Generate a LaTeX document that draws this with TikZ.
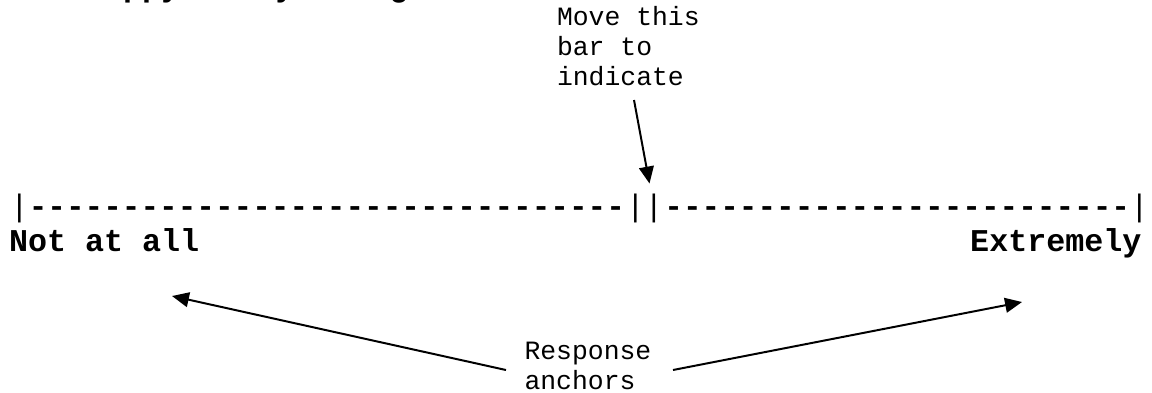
\documentclass[tikz,border=0pt]{standalone}
\usepackage{fontspec}
\setmonofont{Liberation Mono}
\usetikzlibrary{arrows.meta}
\begin{document}
\begin{tikzpicture}[x=0.3785pt,y=-0.3785pt,
  lbl/.style={inner sep=0pt, font=\ttfamily\bfseries\fontsize{12}{14}\selectfont},
  scl/.style={inner sep=0pt, font=\ttfamily\bfseries\fontsize{11.75}{14}\selectfont},
  note/.style={inner sep=0pt, align=left, font=\ttfamily\fontsize{10}{11.17}\selectfont},
  arr/.style={-{Triangle[length=6.4pt,width=5.6pt]}, line width=0.75pt}]
\useasboundingbox (0,0) rectangle (1152,392);
% title (cut off by the page top)
\node[lbl, anchor=base west] (title) at (8.5,-3.5) {How happy are you right now?};
% scale line
\node[scl, anchor=base west] (leftseg) at (9.7,216) {{\mdseries|}--------------------------------};
\node[scl, anchor=base west] (slider) at (leftseg.base east) {{\mdseries||}};
\node[scl, anchor=base west] (rightseg) at (slider.base east) {-------------------------{\mdseries|}};
% anchors labels
\node[lbl, anchor=base west] (notall) at (8.5,251.5) {Not at all};
\node[lbl, anchor=base east] (extremely) at (1142,251.5) {Extremely};
% notes (base = baseline of the last line)
\node[note, anchor=base west] (movenote) at (556.5,85) {Move this\\bar to\\indicate};
\node[note, anchor=base west] (respnote) at (524,389) {Response\\anchors};
% connectors
\coordinate (moveTail) at (634,100);
\coordinate (sliderTip) at (649.5,183.5);
\coordinate (respL) at (506,370);
\coordinate (respR) at (673,370);
\coordinate (tipL) at (172,296);
\coordinate (tipR) at (1022,302);
\draw[arr] (moveTail) -- (sliderTip);
\draw[arr] (respL) -- (tipL);
\draw[arr] (respR) -- (tipR);
\end{tikzpicture}
\end{document}
